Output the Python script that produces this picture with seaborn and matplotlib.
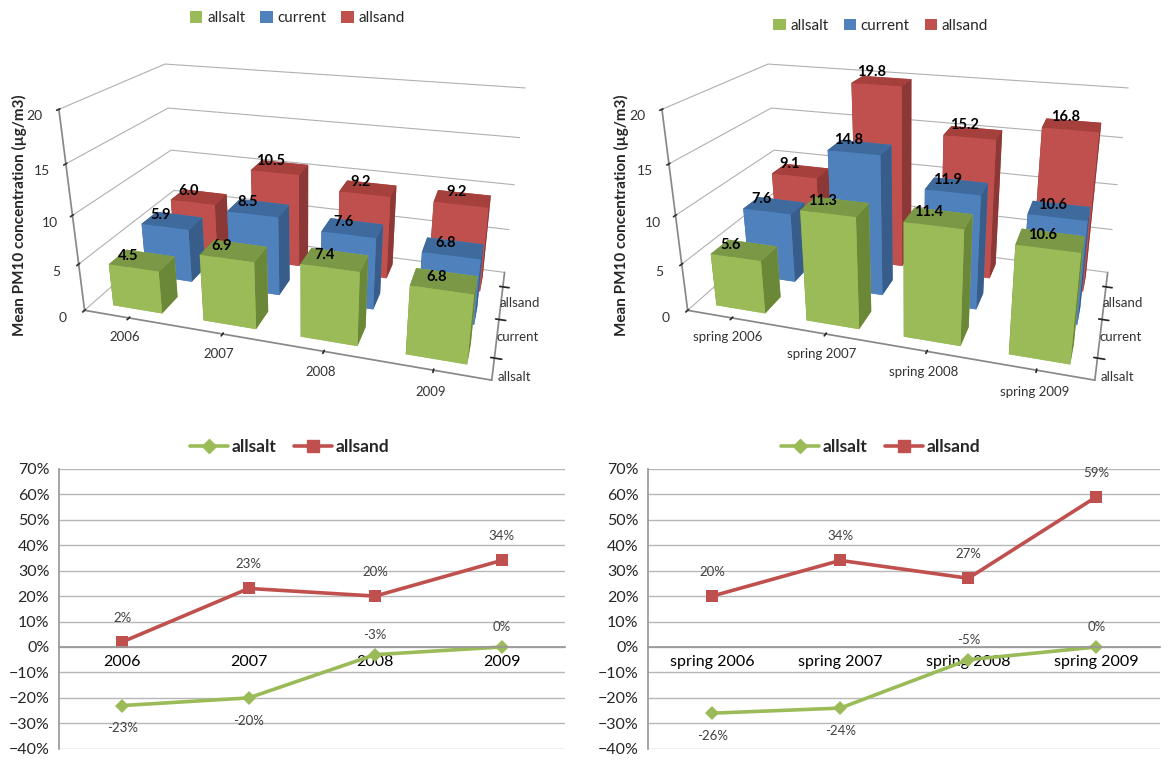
import numpy as np
import pandas as pd
import seaborn as sns
import matplotlib
matplotlib.use("Agg")
import matplotlib.pyplot as plt
from matplotlib.lines import Line2D
from matplotlib.patches import Patch
from matplotlib.ticker import FixedLocator, PercentFormatter

# datos
years = ['2006', '2007', '2008', '2009']
springs = ['spring 2006', 'spring 2007', 'spring 2008', 'spring 2009']
scenarios = ['allsalt', 'current', 'allsand']

annual_allsalt = [4.5, 6.9, 7.4, 6.8]
annual_current = [5.9, 8.5, 7.6, 6.8]
annual_allsand = [6.0, 10.5, 9.2, 9.2]

spring_allsalt = [5.6, 11.3, 11.4, 10.6]
spring_current = [7.6, 14.8, 11.9, 10.6]
spring_allsand = [9.1, 19.8, 15.2, 16.8]

annual_change_allsalt = [-23, -20, -3, 0]
annual_change_allsand = [2, 23, 20, 34]
spring_change_allsalt = [-26, -24, -5, 0]
spring_change_allsand = [20, 34, 27, 59]

sns.set_theme(style="white")
plt.rcParams['font.family'] = ['Lato', 'DejaVu Sans']

# colores estilo Office: frente, techo, lado
face_cols = {
    'allsalt': ('#9BBB59', '#7A9845', '#6B8738'),
    'current': ('#4F81BD', '#3F6A9E', '#385D8A'),
    'allsand': ('#C0504D', '#A6403D', '#8C3836'),
}
line_cols = {'allsalt': '#9BBB59', 'allsand': '#C0504D'}

fig = plt.figure(figsize=(11.71, 7.61), dpi=100)

BAR_W = 0.55


def bars_3d(rect, cats, series_vals):
    ax = fig.add_axes(rect, projection='3d', proj_type='persp', focal_length=0.3)
    xs, ys, dz, cols = [], [], [], []
    for j in reversed(range(len(scenarios))):
        name = scenarios[j]
        front, top, side = face_cols[name]
        for i, v in enumerate(series_vals[j]):
            xs.append(i - BAR_W / 2)
            ys.append(j - 0.25)
            dz.append(v)
            # -z, +z, -y, +y, -x, +x
            cols += [front, top, front, front, side, side]
    ax.bar3d(xs, ys, np.zeros(len(xs)), BAR_W, 0.5, dz, color=cols, shade=False,
             edgecolor='none')
    for j in range(len(scenarios)):
        for i, v in enumerate(series_vals[j]):
            ax.text(i - 0.05, j - 0.25, v + 0.5, f'{v:.1f}', ha='center', va='bottom',
                    fontsize=10.5, fontweight='bold', color='black', zorder=10)
    ax.set_xlim(-0.5, len(cats) - 0.5)
    ax.set_ylim(-0.5, len(scenarios) - 0.5)
    ax.set_zlim(0, 20)
    ax.set_xticks(range(len(cats)))
    ax.set_xticklabels(cats, fontsize=9.5, color='#333333')
    ax.set_yticks(range(len(scenarios)))
    ax.set_yticklabels(scenarios, fontsize=9.5, color='#333333')
    ax.set_zticks([0, 5, 10, 15, 20])
    ax.tick_params(axis='z', labelsize=10, colors='#333333', pad=0)
    ax.tick_params(axis='x', pad=0)
    ax.tick_params(axis='y', pad=0)
    ax.zaxis.set_ticks_position('lower')
    for axis in (ax.xaxis, ax.yaxis, ax.zaxis):
        axis.set_pane_color((1, 1, 1, 0))
        axis.pane.set_edgecolor('#b0b0b0')
        axis.line.set_color('#888888')
    ax.xaxis._axinfo['grid']['color'] = (1, 1, 1, 0)
    ax.yaxis._axinfo['grid']['color'] = (1, 1, 1, 0)
    ax.zaxis._axinfo['grid']['color'] = '#b0b0b0'
    ax.zaxis._axinfo['grid']['linewidth'] = 0.8
    ax.set_box_aspect((5.0, 2.6, 2.6), zoom=1.05)
    ax.view_init(elev=22, azim=-73)
    return ax


bars_3d([-0.045, 0.43, 0.60, 0.60], years,
        [annual_allsalt, annual_current, annual_allsand])
bars_3d([0.47, 0.43, 0.60, 0.60], springs,
        [spring_allsalt, spring_current, spring_allsand])

for xl in (0.0165, 0.531):
    fig.text(xl, 0.717, 'Mean PM10 concentration (µg/m3)', rotation=90,
             ha='center', va='center', fontsize=11, fontweight='bold')

bar_handles = [Patch(facecolor=face_cols[s][0], edgecolor='none') for s in scenarios]
fig.legend(bar_handles, scenarios, loc='center', bbox_to_anchor=(0.254, 0.976), ncol=3,
           frameon=False, fontsize=11, handlelength=0.8, handleheight=0.8,
           handletextpad=0.3, columnspacing=1.0)
fig.legend(bar_handles, scenarios, loc='center', bbox_to_anchor=(0.752, 0.966), ncol=3,
           frameon=False, fontsize=11, handlelength=0.8, handleheight=0.8,
           handletextpad=0.3, columnspacing=1.0)


def change_chart(rect, cats, salt, sand, legend_x):
    ax = fig.add_axes(rect)
    df = pd.DataFrame({'cat': list(range(len(cats))) * 2,
                       'value': list(salt) + list(sand),
                       'scenario': ['allsalt'] * len(cats) + ['allsand'] * len(cats)})
    sns.lineplot(data=df, x='cat', y='value', hue='scenario', style='scenario',
                 palette=line_cols, markers={'allsalt': 'D', 'allsand': 's'},
                 dashes=False, linewidth=2.6, markersize=9, markeredgewidth=0,
                 legend=False, ax=ax)
    for line in ax.lines:
        if line.get_marker() == 'D':
            line.set_markersize(7)
    for i, v in enumerate(sand):
        ax.annotate(f'{v}%', (i, v), xytext=(0, 13), textcoords='offset points',
                    ha='center', va='bottom', fontsize=9.5, color='#404040')
    for i, v in enumerate(salt):
        off = -12 if v < -10 else 10
        ax.annotate(f'{v}%', (i, v), xytext=(0, off), textcoords='offset points',
                    ha='center', va='top' if off < 0 else 'bottom',
                    fontsize=9.5, color='#404040')
    ax.set_xlim(-0.5, len(cats) - 0.5)
    ax.set_ylim(-40, 70)
    ax.yaxis.set_major_locator(FixedLocator(range(-40, 71, 10)))
    ax.yaxis.set_major_formatter(PercentFormatter(decimals=0))
    ax.grid(axis='y', color='#b7b7b7', linewidth=1)
    ax.grid(axis='x', visible=False)
    ax.set_xticks(range(len(cats)))
    ax.set_xticklabels(cats)
    ax.set_xticks(np.arange(-0.5, len(cats), 1.0), minor=True)
    ax.spines['bottom'].set_position(('data', 0))
    ax.spines['bottom'].set_color('#999999')
    ax.spines['left'].set_color('#999999')
    ax.spines['top'].set_visible(False)
    ax.spines['right'].set_visible(False)
    ax.tick_params(axis='x', which='major', length=0, labelsize=11.5, pad=6, colors='black')
    ax.tick_params(axis='x', which='minor', length=5, width=1, color='#999999', direction='out')
    ax.tick_params(axis='y', labelsize=11.5, length=5, width=1, color='#999999', pad=2,
                   direction='out')
    ax.set_xlabel('')
    ax.set_ylabel('')
    handles = [Line2D([], [], color=line_cols['allsalt'], marker='D', markersize=7, lw=2.6),
               Line2D([], [], color=line_cols['allsand'], marker='s', markersize=9, lw=2.6)]
    fig.legend(handles, ['allsalt', 'allsand'], loc='center', bbox_to_anchor=(legend_x, 0.413),
               ncol=2, frameon=False, prop={'size': 12.5, 'weight': 'bold'},
               handlelength=2.2, handletextpad=0.2, columnspacing=1.0)
    return ax


change_chart([0.0504, 0.016, 0.432, 0.368], years,
             annual_change_allsalt, annual_change_allsand, 0.247)
change_chart([0.5535, 0.016, 0.4375, 0.368], springs,
             spring_change_allsalt, spring_change_allsand, 0.752)

fig.savefig('out.png', dpi=100)
